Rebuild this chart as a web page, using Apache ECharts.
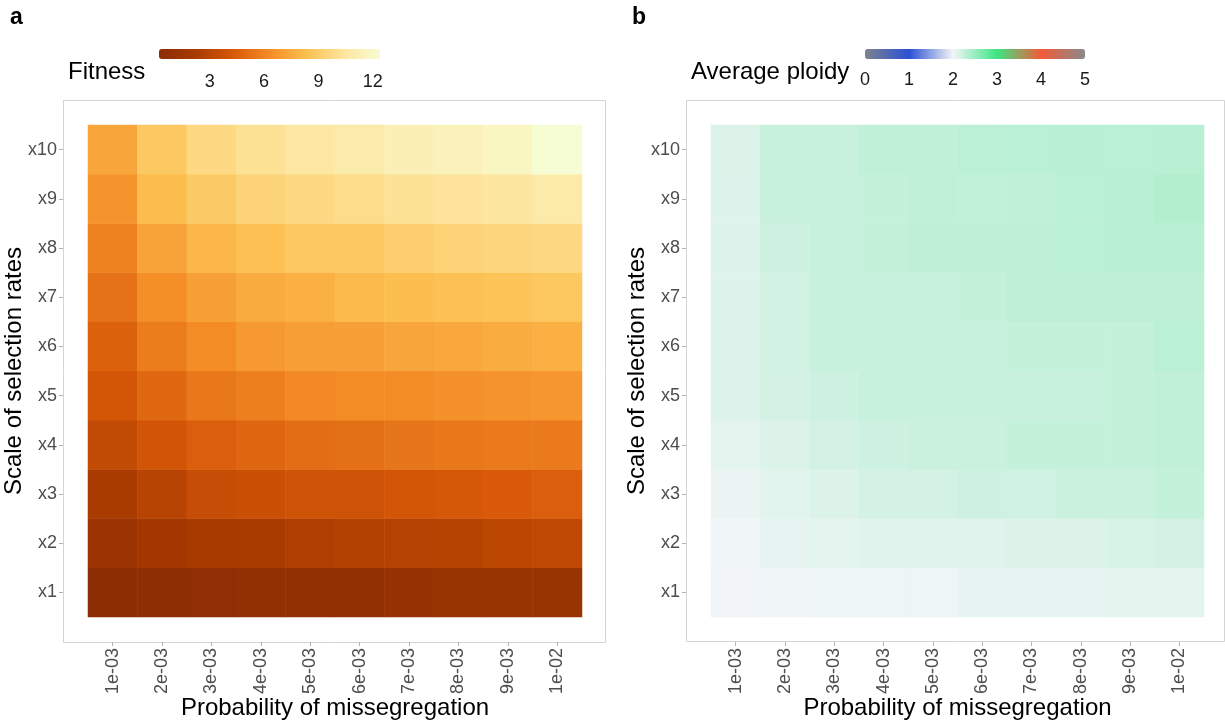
<!DOCTYPE html>
<html>
<head>
<meta charset="utf-8">
<script src="https://cdn.jsdelivr.net/npm/echarts@6/dist/echarts.min.js"></script>
<style>
  html, body { margin: 0; padding: 0; background: #fff; }
  #chart { width: 1225px; height: 725px; }
</style>
</head>
<body>
<div id="chart"></div>
<script>
// Probability of missegregation (columns) and scale of selection rates (rows)
const probLabels = ['1e-03', '2e-03', '3e-03', '4e-03', '5e-03', '6e-03', '7e-03', '8e-03', '9e-03', '1e-02'];
const scaleLabels = ['x1', 'x2', 'x3', 'x4', 'x5', 'x6', 'x7', 'x8', 'x9', 'x10'];

// Fitness, one row per selection scale (x1 .. x10), columns follow probLabels
const fitnessX1  = [0.2, 0.3, 0.5, 0.6, 0.6, 0.6, 1.0, 1.1, 1.1, 1.1];
const fitnessX2  = [1.3, 1.8, 2.2, 2.3, 2.5, 2.7, 2.8, 2.85, 3.1, 3.2];
const fitnessX3  = [2.3, 2.9, 3.5, 3.7, 3.9, 3.9, 4.1, 4.2, 4.4, 4.5];
const fitnessX4  = [3.3, 4.0, 4.5, 4.8, 5.1, 5.2, 5.4, 5.5, 5.6, 5.6];
const fitnessX5  = [4.1, 4.9, 5.5, 5.8, 6.2, 6.3, 6.3, 6.5, 6.6, 6.7];
const fitnessX6  = [4.6, 5.7, 6.3, 6.8, 7.0, 7.1, 7.3, 7.4, 7.6, 7.7];
const fitnessX7  = [5.3, 6.4, 7.1, 7.5, 7.7, 8.1, 8.3, 8.4, 8.5, 8.7];
const fitnessX8  = [5.9, 7.2, 8.0, 8.4, 8.8, 8.8, 9.1, 9.4, 9.5, 9.7];
const fitnessX9  = [6.6, 8.2, 8.9, 9.4, 9.7, 9.9, 10.2, 10.3, 10.5, 10.8];
const fitnessX10 = [7.3, 8.8, 9.7, 10.2, 10.6, 10.9, 11.3, 11.5, 11.8, 12.4];

// Average ploidy, same layout
const ploidyX1  = [1.99, 2.01, 2.03, 2.03, 2.03, 2.06, 2.06, 2.06, 2.08, 2.08];
const ploidyX2  = [2.01, 2.06, 2.08, 2.10, 2.10, 2.10, 2.12, 2.12, 2.15, 2.17];
const ploidyX3  = [2.04, 2.09, 2.12, 2.17, 2.17, 2.20, 2.19, 2.22, 2.22, 2.26];
const ploidyX4  = [2.08, 2.12, 2.17, 2.20, 2.22, 2.22, 2.26, 2.26, 2.26, 2.28];
const ploidyX5  = [2.11, 2.17, 2.20, 2.24, 2.24, 2.24, 2.24, 2.24, 2.26, 2.28];
const ploidyX6  = [2.11, 2.18, 2.24, 2.24, 2.24, 2.24, 2.26, 2.26, 2.26, 2.31];
const ploidyX7  = [2.11, 2.18, 2.24, 2.24, 2.24, 2.26, 2.29, 2.29, 2.29, 2.29];
const ploidyX8  = [2.11, 2.20, 2.24, 2.26, 2.29, 2.29, 2.29, 2.31, 2.33, 2.33];
const ploidyX9  = [2.11, 2.24, 2.24, 2.26, 2.28, 2.27, 2.28, 2.31, 2.33, 2.35];
const ploidyX10 = [2.13, 2.24, 2.24, 2.28, 2.28, 2.30, 2.31, 2.32, 2.31, 2.33];

// Colour-bar tick labels
const fitnessTicks = [3, 6, 9, 12];
const ploidyTicks = [0, 1, 2, 3, 4, 5];
const ploidyMin = 0;
const ploidyMax = 5;

const fitnessRows = [fitnessX1, fitnessX2, fitnessX3, fitnessX4, fitnessX5,
                     fitnessX6, fitnessX7, fitnessX8, fitnessX9, fitnessX10];
const ploidyRows = [ploidyX1, ploidyX2, ploidyX3, ploidyX4, ploidyX5,
                    ploidyX6, ploidyX7, ploidyX8, ploidyX9, ploidyX10];

function toCells(rows) {
  const out = [];
  rows.forEach((row, yi) => row.forEach((v, xi) => out.push([xi, yi, v])));
  return out;
}
const fitnessCells = toCells(fitnessRows);
const ploidyCells = toCells(ploidyRows);
const allFitness = fitnessRows.flat();
const fitMin = Math.min(...allFitness);
const fitMax = Math.max(...allFitness);

// Colour ramps
const fitnessColors = ['#8c2d04', '#a83a00', '#d75808', '#f48c26', '#fcc050', '#fde59c', '#f7fdd2'];
const ploidyColors = ['#7e8290', '#2b50d3', '#f2f5f8', '#3ee584', '#f25a3a', '#8a8a8a'];

const FONT = 'Liberation Sans, Arial, sans-serif';
const tickGrey = '#4d4d4d';

function heatAxes(gi) {
  return {
    x: {
      type: 'category', gridIndex: gi, data: probLabels, offset: 25,
      axisLine: { show: false },
      axisTick: { show: true, alignWithLabel: true, length: 4, lineStyle: { color: '#b3b3b3' } },
      axisLabel: { rotate: 90, fontSize: 18, color: tickGrey, margin: 6, fontFamily: FONT },
      splitLine: { show: false },
      name: 'Probability of missegregation', nameLocation: 'middle', nameGap: 54,
      nameMoveOverlap: false,
      nameTextStyle: { fontSize: 24, color: '#000', fontFamily: FONT }
    },
    y: {
      type: 'category', gridIndex: gi, data: scaleLabels, offset: 25,
      axisLine: { show: false },
      axisTick: { show: true, alignWithLabel: true, length: 4, lineStyle: { color: '#b3b3b3' } },
      axisLabel: { fontSize: 18, color: tickGrey, margin: 6, fontFamily: FONT },
      splitLine: { show: false },
      name: 'Scale of selection rates', nameLocation: 'middle', nameGap: 37,
      nameMoveOverlap: false,
      nameTextStyle: { fontSize: 24, color: '#000', fontFamily: FONT }
    }
  };
}
const axA = heatAxes(0);
const axB = heatAxes(1);

function legendAxes(gi, min, max, ticks, margin) {
  return {
    x: {
      type: 'value', gridIndex: gi, min: min, max: max,
      axisLine: { show: false }, axisTick: { show: false }, splitLine: { show: false },
      axisLabel: { customValues: ticks, fontSize: 18, color: '#1a1a1a', margin: margin, fontFamily: FONT }
    },
    y: { type: 'value', gridIndex: gi, show: false }
  };
}
const lgA = legendAxes(2, fitMin, fitMax, fitnessTicks, 14);
const lgB = legendAxes(3, ploidyMin, ploidyMax, ploidyTicks, 12);

const chart = echarts.init(document.getElementById('chart'), null, { renderer: 'canvas' });
chart.setOption({
  animation: false,
  backgroundColor: '#ffffff',
  textStyle: { fontFamily: FONT },
  title: [
    { text: 'a', left: 10, top: 6, padding: 0, textStyle: { fontSize: 23, fontWeight: 'bold', color: '#000', fontFamily: FONT } },
    { text: 'b', left: 632, top: 6, padding: 0, textStyle: { fontSize: 23, fontWeight: 'bold', color: '#000', fontFamily: FONT } }
  ],
  grid: [
    { left: 88, top: 125, width: 494, height: 492, outerBoundsMode: 'none' },
    { left: 711, top: 125, width: 493, height: 492, outerBoundsMode: 'none' },
    { left: 159, top: 49, width: 221, height: 10, outerBoundsMode: 'none' },
    { left: 865, top: 49, width: 220, height: 10, outerBoundsMode: 'none' }
  ],
  xAxis: [axA.x, axB.x, lgA.x, lgB.x],
  yAxis: [axA.y, axB.y, lgA.y, lgB.y],
  visualMap: [
    {
      type: 'continuous', seriesIndex: 0, min: fitMin, max: fitMax,
      orient: 'horizontal', left: 159, top: 49, itemWidth: 10, itemHeight: 221,
      padding: 0, calculable: false, hoverLink: false,
      inRange: { color: fitnessColors }
    },
    {
      type: 'continuous', seriesIndex: 1, min: ploidyMin, max: ploidyMax,
      orient: 'horizontal', left: 865, top: 49, itemWidth: 10, itemHeight: 220,
      padding: 0, calculable: false, hoverLink: false,
      inRange: { color: ploidyColors }
    }
  ],
  graphic: [
    { type: 'rect', shape: { x: 63.5, y: 100.5, width: 542, height: 542 },
      style: { fill: null, stroke: '#d4d4d4', lineWidth: 1 }, silent: true, z: -1 },
    { type: 'rect', shape: { x: 686.5, y: 100.5, width: 538, height: 541 },
      style: { fill: null, stroke: '#d4d4d4', lineWidth: 1 }, silent: true, z: -1 },
    { type: 'text', left: 68, top: 60, style: { text: 'Fitness', fontSize: 24, fill: '#000', font: '24px ' + FONT } },
    { type: 'text', left: 691, top: 60, style: { text: 'Average ploidy', fontSize: 24, fill: '#000', font: '24px ' + FONT } }
  ],
  series: [
    {
      type: 'heatmap', xAxisIndex: 0, yAxisIndex: 0, data: fitnessCells,
      itemStyle: { borderWidth: 0 }, emphasis: { disabled: true }
    },
    {
      type: 'heatmap', xAxisIndex: 1, yAxisIndex: 1, data: ploidyCells,
      itemStyle: { borderWidth: 0 }, emphasis: { disabled: true }
    }
  ]
});
</script>
</body>
</html>
